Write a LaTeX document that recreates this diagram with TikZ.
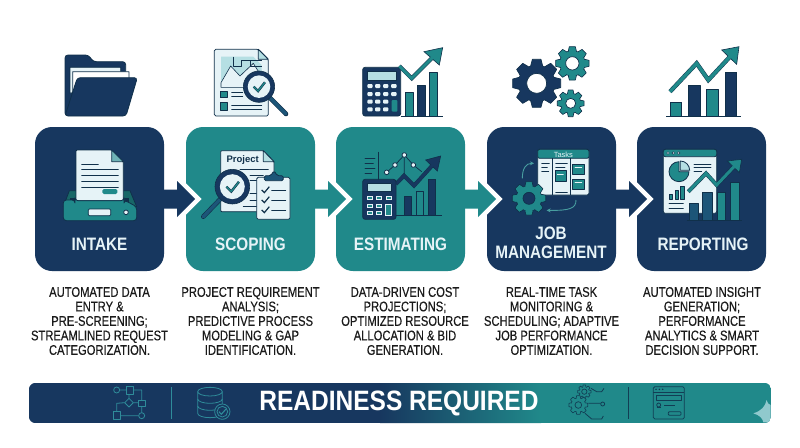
\documentclass[tikz,border=0pt]{standalone}
\usepackage{fontspec}
\usetikzlibrary{arrows.meta}
\setmainfont{Liberation Sans}
\newfontfamily\descfont[FakeStretch=0.80,FakeBold=0.35]{Liberation Sans}
\newfontfamily\labelfont[FakeStretch=0.85]{Liberation Sans}
\newfontfamily\bannerfont[FakeStretch=0.875]{Liberation Sans}
\definecolor{navy}{HTML}{17375F}
\definecolor{tealx}{HTML}{20898A}
\definecolor{darkx}{HTML}{10304A}
\definecolor{paper}{HTML}{E6F3F7}
\definecolor{paleteal}{HTML}{B5DFE3}
\definecolor{midblue}{HTML}{1C5578}
\definecolor{inkx}{HTML}{1A1A1A}
\definecolor{bantealline}{HTML}{2F8C9A}
\tikzset{
  zA/.style={shift={(20,30)},x=.33333pt,y=-.33333pt},
  zB/.style={shift={(320,30)},x=.33333pt,y=-.33333pt},
  zC/.style={shift={(620,30)},x=.33333pt,y=-.33333pt},
  zD/.style={shift={(20,370)},x=.33333pt,y=-.33333pt},
  zE/.style={shift={(420,370)},x=.33333pt,y=-.33333pt},
  stage/.style={rectangle,rounded corners=17pt,minimum width=129pt,minimum height=144pt,inner sep=0pt,draw=none},
  stagenavy/.style={stage,fill=navy},
  stageteal/.style={stage,fill=tealx},
  stagetext/.style={text=paper,font=\labelfont\bfseries\fontsize{18}{19}\selectfont,inner sep=0pt,align=center},
  desc/.style={text=inkx,font=\descfont\fontsize{14}{14.5}\selectfont,inner sep=0pt,align=center},
  ink/.style={draw=darkx,line width=.8pt,line join=round},
  thin ink/.style={draw=darkx,line width=.7pt,line cap=round},
  banlight/.style={draw=bantealline,line width=.8pt,line join=round},
  bandark/.style={draw=darkx!85!tealx,line width=.8pt,line join=round},
}
% x y router rbody rhole teeth fill holefill outline
\newcommand{\gearicon}[9]{%
  \begin{scope}[shift={(#1,#2)}]
    \foreach \i in {1,...,#6}{%
      \pgfmathsetmacro\ga{360/#6*\i}%
      \pgfmathsetmacro\gw{#4*2.6/#6}%
      \draw[#9,line width=.7pt,line join=round,fill=#7,rotate=\ga] (-\gw,#4-2)--(-.72*\gw,#3)--(.72*\gw,#3)--(\gw,#4-2)--cycle;}
    \draw[#9,line width=.7pt,fill=#7] (0,0) circle (#4);
    \foreach \i in {1,...,#6}{%
      \pgfmathsetmacro\ga{360/#6*\i}%
      \pgfmathsetmacro\gw{#4*2.6/#6}%
      \fill[#7,rotate=\ga] (-\gw+1,#4-6)--(-.72*\gw+1,#3-2)--(.72*\gw-1,#3-2)--(\gw-1,#4-6)--cycle;}
    \fill[#7] (0,0) circle (#4-1);
    \draw[#9,line width=.7pt,fill=#8] (0,0) circle (#5);
  \end{scope}}
% polyline, head, colour, width
\newcommand{\trend}[4]{%
  \draw[darkx,line width=#4+.9pt,miter limit=4] #1;
  \fill[#3,draw=darkx,line width=.6pt,line join=miter] #2;
  \draw[#3,line width=#4,miter limit=4] #1;}
% box name, colour
\newcommand{\stagearrow}[2]{%
  \begin{scope}[shift={(#1.east)}]
    \draw[white,line width=9pt,miter limit=10,fill=white] (13,-18)--(31,0)--(13,18)--cycle;
    \fill[#2] (0,-9.5)--(13,-9.5)--(13,-18)--(31,0)--(13,18)--(13,9.5)--(0,9.5)--cycle;
  \end{scope}}
% magnifier: cx cy r handle end
\newcommand{\magnify}[5]{%
  \draw[darkx,line width=4.6pt,line cap=round] (#1,#2) -- (#4,#5);
  \draw[midblue,line width=3.4pt,line cap=round] (#1,#2) -- (#4,#5);
  \draw[darkx,line width=.6pt,fill=navy] (#1,#2) circle (#3);
  \fill[paper] (#1,#2) circle (#3*.72);
  \draw[darkx,line width=2.4pt,line join=miter] (#1-#3*.34,#2) -- (#1-#3*.06,#2+#3*.28) -- (#1+#3*.38,#2-#3*.28);
  \draw[tealx,line width=1.3pt,line join=miter] (#1-#3*.34,#2) -- (#1-#3*.06,#2+#3*.28) -- (#1+#3*.38,#2-#3*.28);}
\begin{document}
\begin{tikzpicture}[x=1pt,y=-1pt]
\useasboundingbox[fill=white] (0,0) rectangle (800,447);

% ---------- stage boxes
\node[stagenavy] (b1) at (99.5,199) {};
\node[stageteal] (b2) at (250.5,199) {};
\node[stageteal] (b3) at (400.5,199) {};
\node[stagenavy] (b4) at (551.5,199) {};
\node[stagenavy] (b5) at (701.5,199) {};

\stagearrow{b1}{navy}
\stagearrow{b2}{tealx}
\stagearrow{b3}{tealx}
\stagearrow{b4}{navy}

\node[stagetext] (t1) at (99.5,244) {INTAKE};
\node[stagetext] (t2) at (250.5,244) {SCOPING};
\node[stagetext] (t3) at (400.5,244) {ESTIMATING};
\node[stagetext] (t4a) at (551,233.5) {JOB};
\node[stagetext] (t4b) at (551,252) {MANAGEMENT};
\node[stagetext] (t5) at (703,244) {REPORTING};

% ---------- descriptions
\node[desc] (d1) at (99.5,321) {AUTOMATED DATA\\ENTRY \&\\PRE-SCREENING;\\STREAMLINED REQUEST\\CATEGORIZATION.};
\node[desc] (d2) at (250.5,321) {PROJECT REQUIREMENT\\ANALYSIS;\\PREDICTIVE PROCESS\\MODELING \& GAP\\IDENTIFICATION.};
\node[desc] (d3) at (405,321) {DATA-DRIVEN COST\\PROJECTIONS;\\OPTIMIZED RESOURCE\\ALLOCATION \& BID\\GENERATION.};
\node[desc] (d4) at (551.5,321) {REAL-TIME TASK\\MONITORING \&\\SCHEDULING; ADAPTIVE\\JOB PERFORMANCE\\OPTIMIZATION.};
\node[desc] (d5) at (702,321) {AUTOMATED INSIGHT\\GENERATION;\\PERFORMANCE\\ANALYTICS \& SMART\\DECISION SUPPORT.};

% ---------- zoom A icons
\begin{scope}[zA]
  % folder
  \draw[ink,fill=navy,rounded corners=3pt] (135,258)--(135,75)--(205,75)--(220,95)--(317,95)--(317,200)--cycle;
  \draw[ink,fill=paper] (150,190)--(150,112)--(302,112)--(302,150)--cycle;
  \draw[ink,fill=white] (158,190)--(158,125)--(327,125)--(327,150)--cycle;
  \draw[ink,fill=navy,rounded corners=3pt] (172,143)--(352,143)--(318,258)--(135,258)--cycle;

  % scoping top document
  \draw[ink,fill=paper,rounded corners=1.5pt] (583,58)--(715,58)--(745,88)--(745,258)--(583,258)--cycle;
  \draw[ink,fill=paleteal] (715,58)--(715,88)--(745,88)--cycle;
  \fill[paleteal] (603,80)--(700,80)--(725,105)--(725,172)--(603,172)--cycle;
  \draw[ink,fill=paper,line width=.6pt] (603,158)--(632,108)--(660,138)--(700,100)--(725,140)--(725,172)--(603,172)--cycle;
  \draw[ink,line width=.6pt] (640,80)--(640,110)--(665,110)--(665,90)--(725,90) (690,90)--(690,110)--(725,110);
  \draw[ink,fill=tealx] (600,183) rectangle (622,203);
  \draw[ink,fill=tealx] (600,218) rectangle (622,240);
  \draw[thin ink] (635,187)--(668,187) (635,200)--(668,200) (635,225)--(725,225) (635,238)--(725,238);
  \magnify{717}{170}{47}{798}{252}

  % intake icon
  \draw[ink,fill=tealx!75!black] (148,482)--(330,482)--(350,530)--(130,530)--cycle;
  \fill[darkx] (150,505) rectangle (328,530);
  \draw[ink,fill=paper,rounded corners=1pt] (168,360)--(275,360)--(310,395)--(310,512)--(168,512)--cycle;
  \draw[ink,fill=tealx!60!paper] (275,360)--(275,395)--(310,395)--cycle;
  \draw[thin ink] (185,403)--(235,403) (185,418)--(295,418) (185,437)--(295,437) (185,455)--(295,455) (185,472)--(295,472);
  \fill[tealx,rounded corners=1.5pt] (247,477) rectangle (292,492);
  \draw[ink,fill=tealx,rounded corners=3pt] (130,510)--(165,510)--(165,512)--(312,512)--(312,510)--(350,530)--(350,572)--(130,572)--cycle;
  \draw[ink,fill=paper,rounded corners=1pt] (205,537) rectangle (272,557);
  \draw[ink,fill=paper] (318,547) circle (7);

  % scoping icon
  \draw[ink,fill=paper,rounded corners=1pt] (602,362)--(730,362)--(762,395)--(762,545)--(602,545)--cycle;
  \draw[ink,fill=paleteal] (730,362)--(730,395)--(762,395)--cycle;
  \node[font=\bfseries\fontsize{9.5}{10}\selectfont,text=darkx,inner sep=0pt] (ptxt) at (668,391) {Project};
  \draw[thin ink] (660,418)--(745,418) (690,435)--(730,435) (690,452)--(710,452) (690,490)--(710,490) (690,510)--(710,510) (670,528)--(710,528);
  \draw[ink,fill=paper,rounded corners=1.5pt] (710,442) rectangle (810,568);
  \draw[ink,fill=midblue,rounded corners=1.5pt] (733,452)--(733,437)--(752,437)--(762,422)--(772,437)--(790,437)--(790,452)--cycle;
  \foreach \yy in {480,510,540}{
    \draw[darkx,line width=1.2pt] (725,\yy)--(733,\yy+8)--(748,\yy-10);
    \draw[thin ink] (755,\yy)--(797,\yy);}
  \magnify{637}{470}{52}{550}{560}
\end{scope}

% ---------- zoom B icons
\begin{scope}[zB]
  % estimating top
  \draw[ink,fill=navy,rounded corners=2.5pt] (128,112) rectangle (242,258);
  \draw[ink,fill=paleteal,line width=.4pt] (142,125) rectangle (230,150);
  \foreach \yy in {168,192,215,238}{\foreach \xx in {150,173,197}{
    \fill[paper,rounded corners=1pt] (\xx-8,\yy-6) rectangle (\xx+8,\yy+6);}}
  \foreach \yy in {168,192}{\fill[paper,rounded corners=1pt] (213,\yy-6) rectangle (230,\yy+6);}
  \fill[tealx,rounded corners=1pt] (215,210) rectangle (232,245);
  \draw[ink,fill=tealx] (257,188) rectangle (280,258);
  \draw[ink,fill=navy] (293,165) rectangle (316,258);
  \draw[ink,fill=tealx] (328,128) rectangle (352,258);
  \draw[darkx,line width=.9pt] (242,258)--(368,258);
  \trend{(238,108)--(275,145)--(338,82)}{(312,65)--(368,53)--(358,105)--cycle}{tealx}{3pt}

  % estimating icon
  \draw[darkx,line width=.8pt] (175,365)--(175,450);
  \draw[thin ink] (135,385)--(165,385) (135,400)--(160,400) (135,415)--(165,415) (135,430)--(155,430);
  \draw[thin ink] (200,427)--(225,405)--(253,375)--(280,405)--(305,425) (253,375)--(253,440);
  \foreach \xx/\yy in {200/427,225/405,253/375,280/405}{\draw[ink,fill=paper] (\xx,\yy) circle (7);}
  \draw[ink,fill=navy] (253,500) rectangle (275,557);
  \draw[ink,fill=tealx] (288,485) rectangle (310,557);
  \draw[ink,fill=navy] (325,447) rectangle (347,557);
  \draw[darkx,line width=.9pt] (228,557)--(365,557);
  \trend{(228,462)--(252,437)--(282,467)--(340,403)}{(317,390)--(362,378)--(352,423)--cycle}{navy}{3pt}
  \draw[ink,fill=navy,rounded corners=2.5pt] (128,448) rectangle (228,568);
  \draw[ink,fill=paleteal,line width=.4pt] (142,460) rectangle (215,483);
  \foreach \yy in {505,527,549}{\foreach \xx in {150,177}{
    \fill[paper] (\xx-8,\yy-6) rectangle (\xx+8,\yy+6);
    \fill[tealx] (\xx-5,\yy-3) rectangle (\xx+5,\yy+3);}}
  \fill[paper] (197,499) rectangle (215,511);
  \fill[tealx] (200,502) rectangle (212,508);
  \draw[paper,line width=.6pt,fill=tealx] (197,522) rectangle (215,555);

  % gears
  \gearicon{650}{160}{72}{55}{30}{8}{navy}{white}{darkx}
  \gearicon{757}{100}{50}{38}{20}{8}{tealx}{white}{darkx}
  \gearicon{752}{220}{40}{30}{15}{8}{tealx}{white}{darkx}

  % job management icon
  \draw[ink,fill=paper,rounded corners=2pt] (653,358) rectangle (807,495);
  \draw[ink,fill=tealx,rounded corners=2pt] (653,358) rectangle (807,385);
  \node[font=\fontsize{7.5}{8}\selectfont,text=paper,inner sep=0pt] (ttxt) at (730,373) {Tasks};
  \draw[darkx,line width=.7pt] (697,385)--(697,495) (752,385)--(752,495);
  \draw[thin ink] (665,400)--(688,400) (665,412)--(682,412) (665,424)--(686,424) (707,400)--(742,400) (707,412)--(735,412) (707,487)--(742,487);
  \draw[ink,fill=tealx] (705,422) rectangle (738,455);
  \draw[ink,fill=tealx] (758,402) rectangle (793,432);
  \draw[ink,fill=tealx] (758,448) rectangle (793,478);
  \draw[thin ink,draw=paper] (712,432)--(730,432) (765,412)--(785,412) (765,458)--(785,458);
  \gearicon{627}{505}{50}{38}{18}{8}{tealx}{navy}{darkx}
  \draw[tealx!80!paper,line width=.9pt,-{Stealth[length=4pt,width=4pt]}] (607,445) .. controls (607,415) and (618,400) .. (642,400);
  \draw[tealx!80!paper,line width=.9pt,-{Stealth[length=4pt,width=4pt]}] (768,510) .. controls (768,535) and (750,542) .. (680,541);
\end{scope}

% ---------- zoom C icons
\begin{scope}[zC]
  % reporting top
  \draw[ink,fill=tealx] (150,217) rectangle (185,258);
  \draw[ink,fill=navy] (205,165) rectangle (240,258);
  \draw[ink,fill=tealx] (260,178) rectangle (295,258);
  \draw[ink,fill=navy] (315,127) rectangle (350,258);
  \draw[darkx,line width=.9pt] (138,258)--(362,258);
  \trend{(150,185)--(230,100)--(265,150)--(330,80)}{(305,60)--(357,50)--(350,103)--cycle}{tealx}{3.4pt}

  % reporting icon
  \draw[ink,fill=paper,rounded corners=2pt] (130,358) rectangle (290,550);
  \draw[ink,fill=tealx,rounded corners=2pt] (130,358) rectangle (290,380);
  \foreach \xx in {144,160,176}{\draw[darkx,line width=.4pt,fill=paper] (\xx,369) circle (4);}
  \draw[ink,fill=tealx] (177,425)--(177,395) arc[start angle=-90,end angle=-360,radius=30] -- cycle;
  \draw[ink,fill=paleteal] (181,421)--(181,393) arc[start angle=-90,end angle=0,radius=28] -- cycle;
  \draw[thin ink] (222,402)--(273,402) (222,413)--(273,413) (222,425)--(245,425);
  \draw[ink,fill=tealx,line width=.5pt] (147,492) rectangle (157,507);
  \draw[ink,fill=tealx,line width=.5pt] (165,480) rectangle (175,507);
  \draw[ink,fill=tealx,line width=.5pt] (182,470) rectangle (192,507);
  \draw[thin ink] (147,520)--(190,520) (147,535)--(190,535);
  \draw[ink,fill=midblue] (208,520) rectangle (235,570);
  \draw[ink,fill=midblue] (248,487) rectangle (277,570);
  \draw[ink,fill=tealx] (292,488) rectangle (317,570);
  \draw[ink,fill=tealx] (332,458) rectangle (358,570);
  \draw[darkx,line width=.9pt] (200,570)--(367,570);
  \trend{(205,485)--(258,430)--(290,465)--(342,410)}{(322,393)--(365,388)--(358,428)--cycle}{tealx}{3pt}
\end{scope}

% ---------- banner
\node[rectangle,minimum width=742pt,minimum height=40pt,inner sep=0pt] (ban) at (400,403) {};
\begin{scope}
  \clip[rounded corners=7pt] (ban.south west) rectangle (ban.north east);
  \fill[navy] (29,383) rectangle (381,423);
  \shade[left color=navy,right color=tealx] (380,383) rectangle (541,423);
  \fill[tealx] (540,383) rectangle (771,423);
  \begin{scope}[zE]
    \fill[paleteal!75!tealx] (1000,130) .. controls (1025,122) and (1035,110) .. (1040,90)
       .. controls (1043,100) and (1047,105) .. (1052,105) -- (1052,157) -- (1030,157) .. controls (1028,145) and (1018,135) .. (1000,130) -- cycle;
  \end{scope}
\end{scope}
\node[font=\bannerfont\bfseries\fontsize{28}{30}\selectfont,text=white,inner sep=0pt] (bantxt) at (399,403) {READINESS REQUIRED};

\begin{scope}[zD]
  \draw[banlight] (290,60) circle (9);
  \draw[banlight] (299,60)--(318,60) (340,60)--(365,60)--(365,90) (327,72)--(327,85) (340,98)--(355,98) (314,98)--(290,100)--(290,125) (300,137)--(356,137) (365,108)--(365,128);
  \draw[banlight] (318,50) rectangle (340,72);
  \draw[banlight] (355,90) rectangle (375,108);
  \draw[banlight] (327,85)--(340,98)--(327,111)--(314,98)--cycle;
  \draw[banlight] (280,125) rectangle (300,147);
  \draw[banlight] (365,137) circle (9);
  \draw[banlight,line width=1pt] (453,52)--(453,147);
  \draw[banlight] (533,65)--(533,130) arc[start angle=180,end angle=360,x radius=37,y radius=-13] (607,110)--(607,65);
  \draw[banlight] (570,65) ellipse (37 and 13);
  \draw[banlight] (533,87) arc[start angle=180,end angle=360,x radius=37,y radius=-13];
  \draw[banlight] (533,108) arc[start angle=180,end angle=360,x radius=37,y radius=-13];
  \draw[banlight,fill=navy] (607,125) circle (23);
  \draw[banlight] (607,125) circle (16);
  \draw[banlight,line width=1.1pt] (597,125)--(604,133)--(618,117);
\end{scope}
\begin{scope}[zE]
  \gearicon{493}{65}{20}{15}{8}{8}{tealx}{tealx}{darkx!85!tealx}
  \gearicon{475}{105}{28}{21}{10}{8}{tealx}{tealx}{darkx!85!tealx}
  \draw[bandark] (505,100)--(542,100) (513,55)--(530,65)--(545,65)--(552,55) (495,130)--(515,147)--(545,147)--(550,138);
  \draw[bandark] (548,102) circle (6);
  \draw[bandark,line width=1pt] (625,52)--(625,147);
  \draw[bandark,rounded corners=1.5pt] (700,50) rectangle (793,147);
  \draw[bandark] (700,67)--(793,67);
  \foreach \xx in {708,718,728}{\fill[darkx] (\xx,58) circle (2.5);}
  \draw[bandark] (710,75) rectangle (783,90);
  \draw[bandark] (716,105) circle (6);
  \draw[bandark] (733,105)--(765,105) (710,112)--(722,112);
  \draw[bandark,rounded corners=1pt] (745,125) rectangle (783,136);
\end{scope}
\end{tikzpicture}
\end{document}
